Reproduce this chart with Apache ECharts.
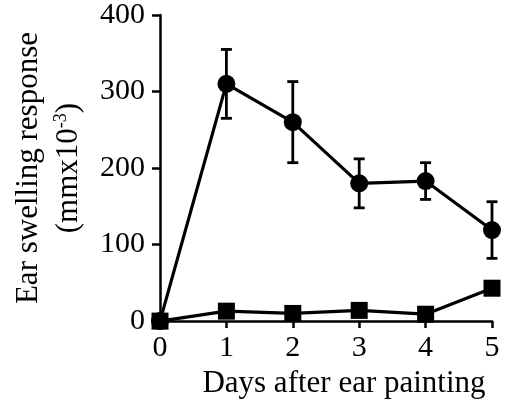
<!DOCTYPE html>
<html>
<head>
<meta charset="utf-8">
<script src="https://cdn.jsdelivr.net/npm/echarts@6/dist/echarts.min.js"></script>
<style>html,body{margin:0;padding:0;background:#fff}#c{width:506px;height:404px}</style>
</head>
<body>
<div id="c"></div>
<script>
var days = [0, 1, 2, 3, 4, 5];
var circleMean = [0, 310, 260, 180, 183, 119];
var circleErr = [0, 45, 53, 32, 24, 37];
var squareMean = [0, 13, 10, 14, 9, 43];
var yTicks = [0, 100, 200, 300, 400];

var font = '"Liberation Serif", "Times New Roman", serif';
var chart = echarts.init(document.getElementById('c'), null, {renderer: 'canvas'});

var errData = days.map(function (d, i) { return [d, circleMean[i] - circleErr[i], circleMean[i] + circleErr[i]]; });

chart.setOption({
  animation: false,
  backgroundColor: '#fff',
  grid: {left: 160, right: 14, top: 15, bottom: 82},
  xAxis: {
    type: 'value', min: 0, max: 5, interval: 1,
    name: 'Days after ear painting', nameLocation: 'middle', nameGap: 46,
    nameTextStyle: {fontFamily: font, fontSize: 31, color: '#000', padding: [0, 0, 0, 36]},
    axisLine: {show: true, lineStyle: {color: '#000', width: 2.5}},
    axisTick: {show: true, length: 7, lineStyle: {color: '#000', width: 2.5}},
    axisLabel: {fontFamily: font, fontSize: 30, color: '#000', margin: 12},
    splitLine: {show: false}
  },
  yAxis: {
    type: 'value', min: yTicks[0], max: yTicks[yTicks.length - 1], interval: 100,
    name: '{a|Ear swelling response}\n{a|(mmx10}{s|-3}{a|)}',
    nameLocation: 'middle', nameRotate: 90, nameGap: 64,
    nameTextStyle: {
      fontFamily: font, fontSize: 31, color: '#000', lineHeight: 40,
      rich: {
        a: {fontFamily: font, fontSize: 31, color: '#000', lineHeight: 40},
        s: {fontFamily: font, fontSize: 18, color: '#000', lineHeight: 40, padding: [0, 0, 16, 0]}
      }
    },
    axisLine: {show: true, lineStyle: {color: '#000', width: 2.5}},
    axisTick: {show: true, length: 8, lineStyle: {color: '#000', width: 2.5}},
    axisLabel: {fontFamily: font, fontSize: 30, color: '#000', margin: 15},
    splitLine: {show: false}
  },
  series: [
    {
      type: 'custom',
      data: errData,
      z: 3,
      renderItem: function (params, api) {
        var x = api.value(0), lo = api.value(1), hi = api.value(2);
        if (hi - lo <= 0) return null;
        var pLo = api.coord([x, lo]), pHi = api.coord([x, hi]);
        var w = 5.5;
        var st = {stroke: '#000', lineWidth: 2.8};
        return {
          type: 'group',
          children: [
            {type: 'line', shape: {x1: pLo[0], y1: pLo[1], x2: pHi[0], y2: pHi[1]}, style: st},
            {type: 'line', shape: {x1: pLo[0] - w, y1: pLo[1], x2: pLo[0] + w, y2: pLo[1]}, style: st},
            {type: 'line', shape: {x1: pHi[0] - w, y1: pHi[1], x2: pHi[0] + w, y2: pHi[1]}, style: st}
          ]
        };
      }
    },
    {
      type: 'line',
      data: days.map(function (d, i) { return [d, circleMean[i]]; }),
      symbol: 'circle', symbolSize: 18,
      z: 4,
      lineStyle: {color: '#000', width: 3.2},
      itemStyle: {color: '#000'}
    },
    {
      type: 'line',
      data: days.map(function (d, i) { return [d, squareMean[i]]; }),
      symbol: 'rect', symbolSize: 17,
      z: 5,
      lineStyle: {color: '#000', width: 3.2},
      itemStyle: {color: '#000'}
    }
  ]
});
</script>
</body>
</html>
